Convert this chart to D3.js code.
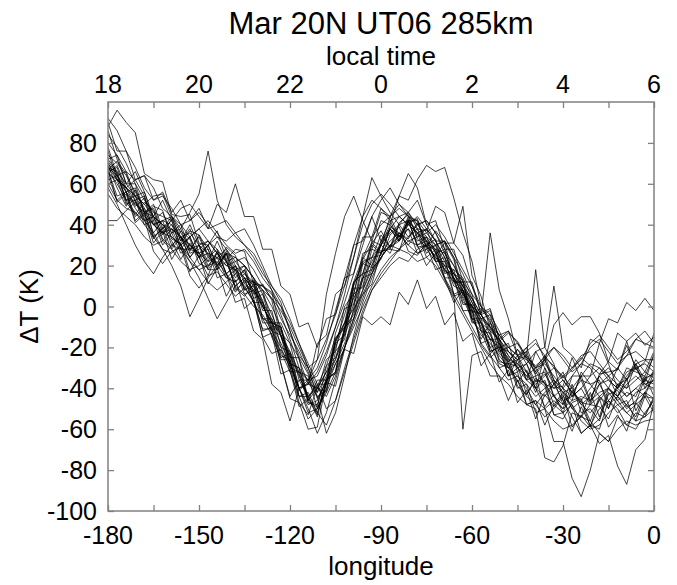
<!DOCTYPE html>
<html lang="en">
<head>
<meta charset="utf-8">
<style>
    body { margin: 0; background: #fff; }
    svg text { font-family: "Liberation Sans", Arial, sans-serif; fill: #000; }
    .frame { fill: none; stroke: #808080; stroke-width: 1.5; }
    .tick line { stroke: #808080; stroke-width: 1.3; }
    .runs path { fill: none; stroke: #000; stroke-width: 0.95; stroke-opacity: 0.78; stroke-linejoin: round; }
</style>
</head>
<body>
<svg width="677" height="585"></svg>
<script src="https://cdn.jsdelivr.net/npm/d3@7/dist/d3.min.js"></script>
<script>

    // longitude grid of the runs
    var lon = [-180,-177,-174,-171,-168,-165,-162,-159,-156,-153,
               -150,-147,-144,-141,-138,-135,-132,-129,-126,-123,
               -120,-117,-114,-111,-108,-105,-102,-99,-96,-93,
               -90,-87,-84,-81,-78,-75,-72,-69,-66,-63,
               -60,-57,-54,-51,-48,-45,-42,-39,-36,-33,
               -30,-27,-24,-21,-18,-15,-12,-9,-6,-3,0];

    var lonTicks = [-180, -150, -120, -90, -60, -30, 0];
    var localTimeLabels = ["18", "20", "22", "0", "2", "4", "6"];
    var yTicks = [-100, -80, -60, -40, -20, 0, 20, 40, 60, 80];

    // delta T (K) of each run
    var run01 = [80,74,66,62,64,58,48,44,40,42, 46,40,34,32,36,38,30,20,10,2, -12,-26,-38,-40,-32,-18,-4,12,24,34, 40,44,48,44,40,42,36,28,20,12, 2,-6,-4,-12,-22,-26,-20,-16,-26,-36, -40,-34,-28,-30,-38,-46,-40,-32,-30,-38,-36];
    var run02 = [55,48,44,40,34,30,32,28,22,18, 20,24,20,14,12,16,10,0,-8,-14, -24,-34,-44,-52,-58,-46,-30,-16,-2,8, 14,20,24,22,28,30,24,18,14,6, -2,-10,-20,-28,-30,-36,-44,-48,-42,-38, -46,-54,-62,-58,-50,-46,-50,-58,-60,-52,-46];
    var run03 = [92,86,76,68,58,52,54,48,40,34, 38,42,36,30,26,28,22,14,8,0, -12,-24,-30,-26,-16,-4,10,24,40,50, 55,50,44,46,40,34,30,32,24,16, 6,0,-6,-14,-12,-18,-26,-30,-24,-20, -26,-32,-28,-20,-16,-22,-28,-24,-16,-12,-18];
    var run04 = [65,62,56,48,42,44,40,34,30,34, 38,32,26,22,24,20,14,6,-4,-14, -28,-40,-48,-46,-36,-26,-14,-2,8,18, 24,30,28,34,40,42,36,26,16,8, 4,-4,-14,-22,-20,-24,-32,-40,-44,-38, -34,-40,-48,-52,-46,-40,-44,-50,-46,-42,-45];
    var run05 = [72,66,60,54,50,54,55,44,36,30, 26,30,34,28,20,14,12,10,4,-6, -14,-22,-32,-42,-34,-20,-8,4,14,22, 30,36,40,46,38,32,28,20,18,14, 4,-8,-16,-18,-24,-30,-28,-22,-30,-38, -42,-40,-34,-28,-30,-36,-40,-34,-28,-26,-30];
    var run06 = [60,52,48,46,40,34,28,26,30,24, 18,12,8,12,16,10,2,-6,-14,-22, -32,-44,-55,-50,-40,-28,-18,-6,6,16, 24,30,35,30,26,28,22,14,6,-2, -10,-18,-24,-30,-36,-34,-40,-48,-54,-50, -44,-48,-56,-60,-58,-52,-48,-52,-56,-54,-50];
    var run07 = [84,78,70,60,52,46,44,42,48,50, 44,38,40,42,36,30,26,18,8,-4, -16,-30,-36,-30,-18,-2,14,30,44,52, 48,42,44,40,36,38,32,24,14,6, 0,-4,-10,-18,-26,-28,-24,-30,-38,-44, -48,-42,-36,-38,-44,-48,-44,-38,-34,-38,-40];
    var run08 = [68,64,58,52,44,40,42,40,34,28, 30,32,26,20,22,24,18,10,6,0, -8,-18,-28,-38,-50,-46,-32,-18,-4,8, 16,22,28,32,34,36,40,34,26,18, 10,0,-8,-14,-20,-24,-26,-32,-38,-40, -36,-42,-48,-44,-38,-36,-40,-44,-40,-36,-38];
    var run09 = [70,62,58,54,46,44,40,36,38,46, 55,76,52,40,34,30,24,16,10,4, -6,-18,-30,-40,-44,-34,-20,-6,8,20, 30,38,44,40,36,32,28,26,20,10, 2,-6,-10,-16,-24,-30,-34,-30,-28,-34, -40,-44,-40,-34,-30,-34,-38,-36,-30,-28,-32];
    var run10 = [58,50,40,30,22,16,24,30,28,22, 18,20,22,16,10,6,0,-4,-12,-20, -30,-40,-52,-50,-42,-32,-20,-10,0,10, 18,24,28,26,22,24,20,12,4,-4, -12,-20,-28,-34,-38,-44,-48,-46,-50,-56, -60,-58,-54,-56,-62,-66,-60,-56,-58,-56,-55];
    var run11 = [66,60,52,46,42,36,28,20,10,-5, 4,14,20,26,24,20,14,8,0,-10, -24,-40,-38,-32,-22,-10,2,16,30,44, 52,58,50,44,42,36,30,22,16,10, 4,-4,-10,-14,-20,-18,-24,-30,-26,-20, -24,-30,-26,-18,-14,-20,-26,-22,-16,-18,-20];
    var run12 = [74,70,64,56,48,40,36,34,30,22, 14,4,-6,2,10,14,8,0,-8,-18, -28,-40,-50,-62,-52,-36,-20,-8,4,16, 26,32,36,32,30,34,26,18,12,4, -6,-14,-18,-24,-30,-34,-38,-44,-40,-36, -42,-50,-54,-48,-44,-40,-46,-52,-48,-44,-45];
    var run13 = [70,64,56,50,46,40,36,38,34,30, 26,22,24,28,22,16,12,8,4,-2, -10,-20,-30,-44,-62,-52,-34,-14,2,14, 24,30,34,40,44,38,32,24,16,10, 0,-8,-16,-20,-22,-28,-34,-38,-34,-30, -36,-42,-46,-40,-34,-30,-36,-40,-36,-32,-35];
    var run14 = [69,58,49,57,46,33,39,32,23,31, 24,15,27,16,7,13,2,-11,-11,-28, -45,-47,-60,-59,-37,-28,-21,-1,6,11, 27,28,27,41,38,37,49,46,31,25, 10,-3,-1,-16,-27,-21,-28,-37,-33,-40, -39,-25,-36,-47,-33,-32,-31,-19,-30,-37,-23];
    var run15 = [72,74,60,60,46,50,38,44,32,38, 26,28,14,16,2,4,-12,-16,-38,-42, -56,-40,-38,-18,-14,6,10,30,32,44, 32,38,34,38,26,30,18,20,6,8, -8,-8,-22,-20,-34,-30,-36,-34,-50,-46, -50,-38,-52,-50,-56,-42,-48,-46,-56,-44,-52];
    var run16 = [68,62,58,54,50,44,40,38,34,36, 30,26,24,20,18,14,8,2,-6,-14, -22,-32,-36,-34,-24,-10,6,24,44,63, 54,46,40,42,36,30,24,20,14,8, 0,-8,-12,-16,-22,-26,-22,-18,-24,-30, -34,-30,-24,-22,-28,-34,-30,-24,-22,-26,-26];
    var run17 = [76,62,58,62,54,40,42,44,38,26, 28,32,28,22,18,20,14,0,-8,-8, -18,-36,-44,-40,-32,-26,-12,10,22,24, 30,44,54,65,58,40,32,32,24,8, -2,-4,-12,-26,-30,-28,-32,-42,-30,-44, -50,-46,-44,-46,-42,-40,-44,-48,-42,-40,-36];
    var run18 = [64,52,56,44,48,36,42,30,34,24, 30,20,26,16,20,8,12,-2,-2,-20, -22,-40,-36,-42,-26,-22,0,6,26,28, 42,40,54,52,62,69,66,68,53,36, 22,0,-4,-20,-18,-32,-28,-40,-36,-48, -42,-46,-32,-38,-36,-50,-38,-40,-28,-40,-31];
    var run19 = [86,72,60,66,56,44,52,42,32,40, 30,22,32,22,12,18,4,-12,-10,-28, -44,-36,-36,-26,6,26,44,54,42,32, 46,44,34,42,30,20,26,14,2,8, -4,-16,-8,-18,-30,-24,-36,-40,-24,-36, -48,-34,-34,-34,-18,-28,-40,-30,-32,-34,-24];
    var run20 = [67,51,55,41,45,31,37,23,31,17, 25,11,19,5,13,-1,3,-15,-13,-33, -31,-49,-45,-53,-37,-39,-21,-23,-5,-9, -5,-9,7,1,13,-1,5,-9,-3,-17, -13,-29,-23,-37,-31,-47,-41,-55,-43,-49, -43,-59,-53,-59,-45,-59,-53,-61,-47,-53,-45];
    var run21 = [66,68,56,58,46,48,36,40,30,34, 24,30,20,26,16,20,6,8,-8,-10, -28,-30,-46,-40,-42,-22,-16,6,10,28, 26,38,32,38,32,34,22,24,6,-60, -24,-22,-34,-34,-46,-36,-48,-46,-58,-48, -52,-48,-62,-58,-60,-46,-52,-48,-54,-42,-50];
    var run22 = [71,65,51,45,51,47,33,29,37,33, 21,19,27,23,9,5,11,3,-15,-25, -23,-33,-47,-49,-29,-15,-11,1,23,31, 27,29,41,45,33,29,37,31,31,49, 15,5,-11,-17,-13,-17,-25,-29,-25,-29, -35,-31,-25,-29,-33,-27,-13,-17,-31,-27,-13];
    var run23 = [78,64,66,54,56,42,46,36,40,28, 34,24,28,16,20,8,10,-6,-6,-24, -26,-44,-42,-52,-36,-32,-10,-4,16,18, 32,28,40,34,38,26,30,16,18,2, 0,-4,36,8,-6,-24,-22,-34,-32,-44, -40,-50,-46,-56,-44,-50,-38,-44,-40,-44,-32];
    var run24 = [68,66,52,52,54,34,38,42,28,28, 26,18,18,26,8,12,12,-6,-8,-10, -30,-32,-34,-50,-38,-18,-14,6,24,20, 32,42,32,42,42,28,30,32,12,12, 6,-12,-16,-16,-34,-26,-24,18,-20,-28, -46,-44,-40,-48,-38,-34,-44,-36,-28,-36,-32];
    var run25 = [60,62,50,52,40,42,30,36,26,30, 24,26,18,22,10,14,2,2,-12,-14, -32,-32,-46,-36,-36,-16,-8,12,16,30, 26,38,32,42,30,32,22,22,10,8, -6,-8,-20,-18,-28,-26,-36,-22,-20,10, -20,-24,-30,-16,-18,-6,-8,2,-2,4,-2];
    var run26 = [67,71,65,51,45,49,47,33,31,37, 35,25,21,29,25,11,7,11,3,-15, -25,-25,-33,-45,-37,-13,-1,1,13,31, 37,29,33,41,43,29,25,31,23,5, -3,-1,-7,-23,-27,-21,-25,-33,-27,-9, -3,-9,-5,-5,-13,-27,-31,-17,-13,-19,-15];
    var run27 = [66,54,56,42,46,34,38,28,34,24, 30,18,24,14,18,6,8,-8,-8,-26, -26,-44,-44,-54,-36,-32,-10,-6,14,16, 30,26,36,30,36,24,28,14,14,-2, -2,-18,-16,-30,-28,-40,-38,-52,-50,-66, -66,-84,-93,-80,-62,-66,-54,-58,-52,-54,-44];
    var run28 = [65,69,58,49,53,44,35,43,34,27, 35,28,19,27,18,9,13,2,-11,-11, -26,-41,-37,-44,-41,-17,-8,-1,21,24, 25,39,36,33,41,32,23,27,14,1, 1,-12,-23,-19,-28,-37,-31,-40,-49,-43, -52,-61,-49,-58,-67,-63,-78,-87,-70,-65,-47];
    var run29 = [62,64,52,54,42,44,32,38,28,34, 24,30,20,26,14,18,4,6,-10,-10, -28,-30,-44,-38,-38,-16,-10,12,16,32, 30,40,34,44,34,38,26,28,12,12, -6,-6,-22,-20,-34,-32,-48,-50,-74,-76, -68,-52,-54,-42,-54,-40,-46,-42,-44,-34,-44];
    var run30 = [42,42,47,51,43,27,21,27,29,15, 9,15,17,11,5,9,3,-15,-23,-21, -29,-47,-53,-39,-29,-25,-11,11,21,19, 23,35,39,27,25,31,27,13,5,7, -1,-19,-25,-21,-25,-39,-43,-35,-39,-53, -55,-47,-45,-59,-55,-43,-41,-49,-47,-35,-33];
    var run31 = [90,76,76,62,64,52,56,46,52,42, 48,38,50,46,60,44,44,28,28,10, 6,-10,-8,-20,-6,-4,14,16,34,34, 48,44,50,46,52,40,42,28,28,12, 12,-4,-2,-16,-12,-24,-20,-32,-26,-38, -32,-44,-34,-46,-34,-40,-30,-36,-26,-32,-22];
    var run32 = [88,96,90,85,65,62,61,45,44,45, 31,30,37,23,28,27,11,10,7,-13, -18,-25,-47,-48,-35,-33,-12,9,9,24, 35,29,32,43,29,30,33,17,16,13, -7,-12,-13,-27,-28,-29,-43,-36,-37,-53, -52,-41,-47,-48,-49,-55,-44,-35,-51,-42,-35];

    var runs = [run01, run02, run03, run04, run05, run06, run07, run08, run09, run10,
                run11, run12, run13, run14, run15, run16, run17, run18, run19, run20,
                run21, run22, run23, run24, run25, run26, run27, run28, run29, run30,
                run31, run32];

    var svg = d3.select("svg"),
        margin = { top: 102, right: 23, bottom: 74, left: 108 },
        width = +svg.attr("width") - margin.left - margin.right,
        height = +svg.attr("height") - margin.top - margin.bottom;

    var x = d3.scaleLinear().domain([-180, 0]).range([0, width]);
    var y = d3.scaleLinear().domain([-100, 100]).range([height, 0]);

    var g = svg.append("g")
        .attr("transform", "translate(" + margin.left + "," + margin.top + ")");

    var line = d3.line()
        .x(function (d, i) { return x(lon[i]); })
        .y(function (d) { return y(d); });

    svg.append("defs").append("clipPath").attr("id", "plot-clip")
        .append("rect").attr("width", width).attr("height", height);

    g.append("g")
        .attr("class", "runs")
        .attr("clip-path", "url(#plot-clip)")
        .selectAll("path")
        .data(runs)
        .enter().append("path")
        .attr("d", line);

    // ticks all point inward; labels are added as separate text
    var minor = d3.range(-180, 1, 15);

    var axBottom = g.append("g")
        .attr("transform", "translate(0," + height + ")")
        .call(d3.axisTop(x).tickValues(minor).tickSize(6).tickFormat(""));
    var axTop = g.append("g")
        .call(d3.axisBottom(x).tickValues(minor).tickSize(6).tickFormat(""));
    var axLeft = g.append("g")
        .call(d3.axisRight(y).tickValues(yTicks).tickSize(6).tickFormat(""));
    var axRight = g.append("g")
        .attr("transform", "translate(" + width + ",0)")
        .call(d3.axisLeft(y).tickValues(yTicks).tickSize(6).tickFormat(""));
    [axBottom, axTop, axLeft, axRight].forEach(function (a) { a.select(".domain").remove(); });

    g.append("rect")
        .attr("class", "frame")
        .attr("width", width)
        .attr("height", height);

    // bottom longitude labels
    g.selectAll(".lonlab")
        .data(lonTicks)
        .enter().append("text")
        .attr("class", "lonlab")
        .attr("x", function (d) { return x(d); })
        .attr("y", height + 33)
        .attr("text-anchor", "middle")
        .attr("font-size", "25px")
        .text(function (d) { return d; });

    // top local time labels
    g.selectAll(".ltlab")
        .data(lonTicks)
        .enter().append("text")
        .attr("class", "ltlab")
        .attr("x", function (d) { return x(d); })
        .attr("y", -9)
        .attr("text-anchor", "middle")
        .attr("font-size", "25px")
        .text(function (d, i) { return localTimeLabels[i]; });

    g.selectAll(".ylab")
        .data(yTicks)
        .enter().append("text")
        .attr("class", "ylab")
        .attr("x", -11)
        .attr("y", function (d) { return y(d); })
        .attr("dy", "0.36em")
        .attr("text-anchor", "end")
        .attr("font-size", "25px")
        .text(function (d) { return d; });

    g.append("text")
        .attr("x", width / 2)
        .attr("y", height + 64)
        .attr("text-anchor", "middle")
        .attr("font-size", "26px")
        .text("longitude");

    g.append("text")
        .attr("x", width / 2)
        .attr("y", -37)
        .attr("text-anchor", "middle")
        .attr("font-size", "26px")
        .text("local time");

    g.append("text")
        .attr("transform", "translate(-70," + (height / 2) + ") rotate(-90)")
        .attr("text-anchor", "middle")
        .attr("font-size", "26px")
        .text("\u0394T (K)");

    svg.append("text")
        .attr("x", margin.left + width / 2)
        .attr("y", 34)
        .attr("text-anchor", "middle")
        .attr("font-size", "31px")
        .text("Mar 20N UT06 285km");

</script>
</body>
</html>
